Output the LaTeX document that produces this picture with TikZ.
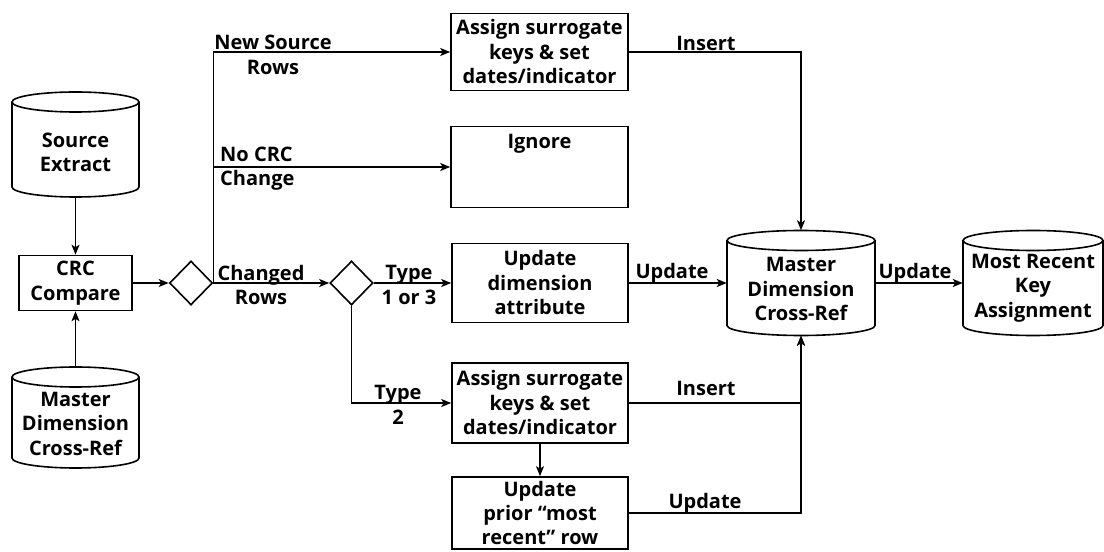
\documentclass[tikz,border=0pt]{standalone}
\usepackage{fontspec}
\setmainfont{Open Sans}
\usetikzlibrary{arrows.meta,calc,shapes.geometric}
\tikzset{
  every node/.style={font=\bfseries\fontsize{20}{24.5}\selectfont},
  line/.style={line width=1.6pt},
  arr/.style={line, -{Stealth[length=10pt,width=8pt,inset=2.5pt]}},
  procbox/.style={draw, line width=1.6pt, align=center, inner sep=0pt},
  dia/.style={draw, diamond, line width=1.6pt, minimum width=43pt, minimum height=44pt, inner sep=0pt},
  cylarea/.style={inner sep=0pt},
  lbl/.style={align=center, inner sep=0pt},
}
\begin{document}
\begin{tikzpicture}[x=1pt,y=1pt]
\useasboundingbox (0,0) rectangle (1104,552);
% ---- cylinders ----
% Source Extract
\node[cylarea, minimum width=127pt, minimum height=105pt,
  label={[lbl,yshift=-8pt]center:Source\\Extract}] (src) at (75.5,407.5) {};
\draw[line] (12,450) -- (12,365) arc[start angle=180,end angle=360,x radius=63.5,y radius=10] -- (139,450);
\draw[line] (75.5,450) ellipse[x radius=63.5,y radius=10];
% Master Dimension Cross-Ref (left)
\node[cylarea, minimum width=127pt, minimum height=101pt,
  label={[lbl,yshift=-6pt]center:Master\\Dimension\\Cross-Ref}] (mdl) at (75.5,134.5) {};
\draw[line] (12,175) -- (12,94) arc[start angle=180,end angle=360,x radius=63.5,y radius=10] -- (139,175);
\draw[line] (75.5,175) ellipse[x radius=63.5,y radius=10];
% Master Dimension Cross-Ref (right)
\node[cylarea, minimum width=148pt, minimum height=105pt,
  label={[lbl,yshift=-6pt]center:Master\\Dimension\\Cross-Ref}] (mdx) at (801,269) {};
\draw[line] (727,311.5) -- (727,226.5) arc[start angle=180,end angle=360,x radius=74,y radius=10] -- (875,311.5);
\draw[line] (801,311.5) ellipse[x radius=74,y radius=10];
% Most Recent Key Assignment
\node[cylarea, minimum width=140pt, minimum height=105pt,
  label={[lbl,yshift=-5pt]center:Most Recent\\Key\\Assignment}] (mr) at (1033,269) {};
\draw[line] (963,311.5) -- (963,226.5) arc[start angle=180,end angle=360,x radius=70,y radius=10] -- (1103,311.5);
\draw[line] (1033,311.5) ellipse[x radius=70,y radius=10];
% ---- boxes ----
\node[procbox, minimum width=113pt, minimum height=55pt] (crc) at (75.5,269) {CRC\\Compare};
\node[dia] (d1) at (191,269) {};
\node[dia] (d2) at (351.5,269) {};
\node[procbox, minimum width=177pt, minimum height=77pt] (a1) at (539.5,500) {Assign surrogate\\keys \& set\\dates/indicator};
\node[procbox, minimum width=177pt, minimum height=81pt,
  label={[anchor=north,inner sep=0pt,yshift=-8pt]north:Ignore}] (ign) at (539.5,385) {};
\node[procbox, minimum width=176pt, minimum height=79pt] (ud) at (540,269) {Update\\dimension\\attribute};
\node[procbox, minimum width=176pt, minimum height=80pt] (a2) at (540,149) {Assign surrogate\\keys \& set\\dates/indicator};
\node[procbox, minimum width=176pt, minimum height=72pt] (up) at (540,39) {Update\\prior ``most\\recent'' row};
% ---- connectors ----
\draw[arr] (src.south) -- (crc.north);
\draw[arr] (mdl.north) -- (crc.south);
\draw[arr] (crc.east) -- (d1.west);
\draw[arr] (d1.east) -- (d2.west);
\draw[arr] (d1.east) |- (a1.west);
\draw[arr] (d1.east) |- (ign.west);
\draw[arr] (d2.east) -- (ud.west);
\draw[arr] (d2.south) |- (a2.west);
\draw[arr] (a2.south) -- (up.north);
\draw[arr] (ud.east) -- (mdx.west);
\draw[arr] (mdx.east) -- (mr.west);
\draw[arr] (a1.east) -| (mdx.north);
\draw[arr] (a2.east) -| (mdx.south);
\draw[arr] (up.east) -| (mdx.south);
% ---- labels ----
\node[lbl] at (273,497) {New Source\\Rows};
\node[lbl, align=left, anchor=west] at (220,383.5) {No CRC\\Change};
\node[lbl] at (261,267) {Changed\\Rows};
\node[lbl] at (409,267) {Type\\1 or 3};
\node[lbl] at (398,147) {Type\\2};
\node[lbl] at (706,509) {Insert};
\node[lbl] at (672,279) {Update};
\node[lbl] at (915,279) {Update};
\node[lbl] at (706,164) {Insert};
\node[lbl] at (705,49) {Update};
\end{tikzpicture}
\end{document}
